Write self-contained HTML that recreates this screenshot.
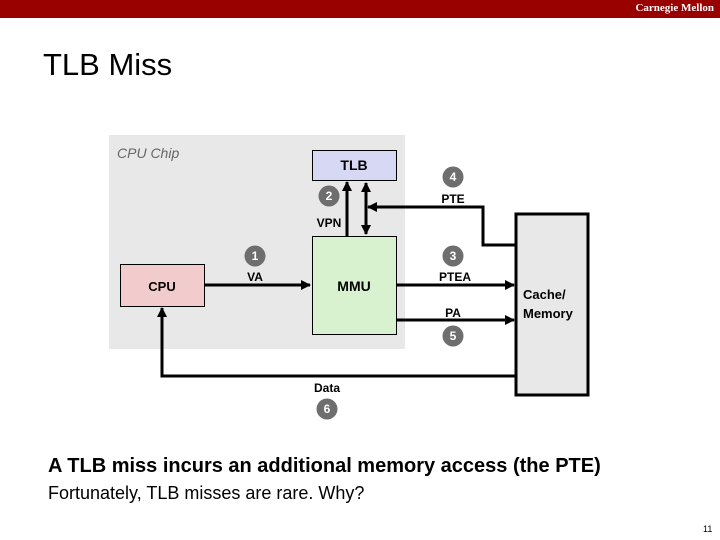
<!DOCTYPE html>
<html><head><meta charset="utf-8"><style>
body{margin:0;width:720px;height:540px;background:#fff;overflow:hidden;position:relative;font-family:"Liberation Sans",sans-serif}
.bar{position:absolute;left:0;top:0;width:720px;height:18px;background:#990000}
.cm{position:absolute;right:6px;top:2px;font-family:"Liberation Serif",serif;font-weight:bold;font-size:11px;color:#fff}
.t{position:absolute;white-space:nowrap}
</style></head><body>
<div class="bar"><div class="cm">Carnegie Mellon</div></div>
<div class="t" style="left:43px;top:47px;font-size:31px;color:#000">TLB Miss</div>
<svg width="720" height="540" style="position:absolute;left:0;top:0" font-family="Liberation Sans, sans-serif">
<defs><marker id="a" markerWidth="10" markerHeight="10" refX="9" refY="5" orient="auto" markerUnits="userSpaceOnUse"><path d="M0,0L10,5L0,10z" fill="#000"/></marker>
<marker id="b" markerWidth="10" markerHeight="10" refX="1" refY="5" orient="auto" markerUnits="userSpaceOnUse"><path d="M10,0L0,5L10,10z" fill="#000"/></marker></defs>
<rect x="109" y="135" width="296" height="214" fill="#e8e8e8"/>
<text x="117" y="158" font-size="14" font-style="italic" fill="#666">CPU Chip</text>
<rect x="312.5" y="150.5" width="84" height="30" fill="#d6d8f4" stroke="#000"/>
<text x="354" y="170" font-size="14" text-anchor="middle" font-weight="bold">TLB</text>
<rect x="312.5" y="236.5" width="84" height="98" fill="#d8f2d0" stroke="#000"/>
<text x="354" y="291" font-size="14" text-anchor="middle" font-weight="bold">MMU</text>
<rect x="120.5" y="264.5" width="84" height="42" fill="#f2cccc" stroke="#000"/>
<text x="162" y="291" font-size="13" text-anchor="middle" font-weight="bold">CPU</text>
<rect x="516" y="214" width="72" height="181" fill="#e8e8e8" stroke="#000" stroke-width="3"/>
<text x="523" y="299" font-size="13" font-weight="bold">Cache/</text>
<text x="523" y="318" font-size="13" font-weight="bold">Memory</text>
<g stroke="#000" stroke-width="3" fill="none">
<line x1="205" y1="285" x2="310" y2="285" marker-end="url(#a)"/>
<line x1="347" y1="236" x2="347" y2="182" marker-end="url(#a)"/>
<line x1="366" y1="183" x2="366" y2="234" marker-start="url(#b)" marker-end="url(#a)"/>
<polyline points="515,245 483,245 483,207 368,207" marker-end="url(#a)"/>
<line x1="397" y1="285" x2="514" y2="285" marker-end="url(#a)"/>
<line x1="397" y1="320" x2="514" y2="320" marker-end="url(#a)"/>
<polyline points="515,376 162,376 162,308" marker-end="url(#a)"/>
</g>
<g font-size="12" text-anchor="middle" font-weight="bold">
<text x="255" y="281">VA</text><text x="329" y="227">VPN</text><text x="453" y="203">PTE</text>
<text x="455" y="281">PTEA</text><text x="453" y="317">PA</text><text x="327" y="392">Data</text>
</g>
<g fill="#6e6e6e"><circle cx="255" cy="256" r="10.5"/><circle cx="329" cy="196" r="10.5"/><circle cx="453" cy="177" r="10.5"/><circle cx="453" cy="256" r="10.5"/><circle cx="453" cy="336" r="10.5"/><circle cx="327" cy="409" r="10.5"/></g>
<g fill="#fff" font-size="12" text-anchor="middle" font-weight="bold">
<text x="255" y="260">1</text><text x="329" y="200">2</text><text x="453" y="181">4</text><text x="453" y="260">3</text><text x="453" y="340">5</text><text x="327" y="413">6</text>
</g>
</svg>
<div class="t" style="left:48px;top:455px;font-size:20px;font-weight:bold">A TLB miss incurs an additional memory access (the PTE)</div>
<div class="t" style="left:48px;top:483px;font-size:18px">Fortunately, TLB misses are rare. Why?</div>
<div class="t" style="left:703px;top:524px;font-size:9px">11</div>
</body></html>
